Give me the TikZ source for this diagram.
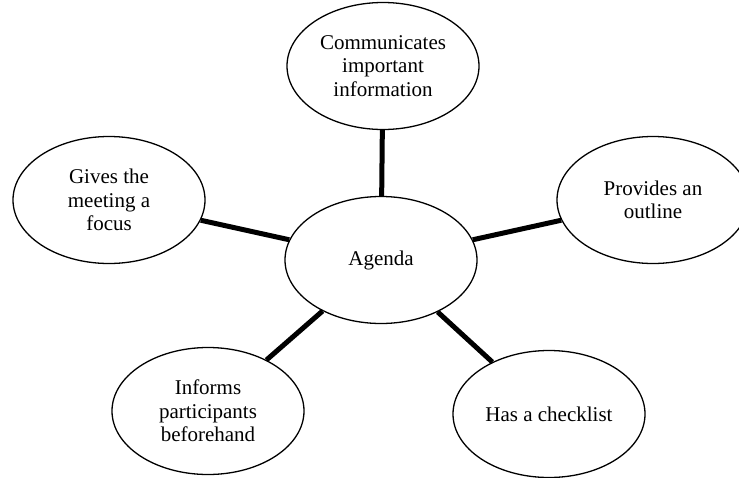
\documentclass[tikz,border=0pt]{standalone}
\usepackage{fontspec}
\setmainfont{Liberation Serif}
\usetikzlibrary{shapes}

\begin{document}
\begin{tikzpicture}[x=1pt,y=-1pt]
\tikzstyle{every node}=[font=\fontsize{21}{23.5}\selectfont]
\tikzstyle{bubble}=[draw, ellipse, line width=1.3pt, minimum width=192pt, minimum height=127pt, inner sep=0pt, align=center]
\tikzstyle{spoke}=[line width=5pt]
\useasboundingbox (0,0) rectangle (739,477);
\node (agenda) [bubble] at (381,260) {Agenda};
\node (info) [bubble] at (383,66) {Communicates\\important\\information};
\node (focus) [bubble] at (109,200) {Gives the\\meeting a\\focus};
\node (outline) [bubble] at (653,200) {Provides an\\outline};
\node (inform) [bubble] at (208,411) {Informs\\participants\\beforehand};
\node (check) [bubble] at (549,414) {Has a checklist};
\draw [spoke] (agenda) -- (info);
\draw [spoke] (agenda) -- (focus);
\draw [spoke] (agenda) -- (outline);
\draw [spoke] (agenda) -- (inform);
\draw [spoke] (agenda) -- (check);
\end{tikzpicture}
\end{document}
